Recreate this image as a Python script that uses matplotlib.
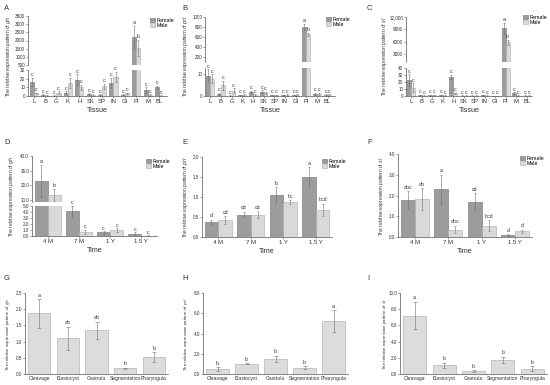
import numpy as np
import matplotlib.pyplot as plt
from matplotlib.patches import Patch

plt.rcParams['font.family'] = ['Liberation Sans', 'DejaVu Sans']
plt.rcParams['axes.linewidth'] = 0.5

FEM = '#9c9c9c'
FEM_EDGE = '#6e6e6e'
MALE = '#d9d9d9'
MALE_EDGE = '#ababab'
ERR = '#707070'
TXT = '#333333'

# ---- data ----
tissues = ['L', 'B', 'G', 'K', 'H', 'SK', 'SP', 'IN', 'GI', 'PI', 'M', 'BL']

gh_f = [16, 1, 0.5, 4, 19, 2, 1, 15, 1.5, 2200, 7, 10]
gh_m = [3, 0.5, 4, 15, 10, 1, 11, 22, 3, 1550, 1, 0.5]
gh_fe = [5, 0.8, 0.4, 1.5, 6, 1, 0.8, 6, 0.5, 700, 3, 2]
gh_me = [1, 0.4, 1.5, 6, 3, 0.8, 3, 6, 1, 500, 0.8, 0.4]
gh_fl = ['c'] * 9 + ['a', 'c', 'c']
gh_ml = ['c'] * 9 + ['b', 'c', 'c']

prl_f = [9.5, 1, 0.2, 0.3, 2, 2, 0.3, 0.3, 0.3, 800, 1, 0.5]
prl_m = [8, 5, 2.5, 0.5, 0.5, 1.5, 0.3, 0.5, 0.5, 660, 1, 0.5]
prl_fe = [3, 0.5, 0.2, 0.3, 0.5, 0.6, 0.2, 0.2, 0.2, 60, 0.4, 0.4]
prl_me = [2, 2, 1, 0.3, 0.3, 0.5, 0.2, 0.3, 0.3, 30, 0.4, 0.3]
prl_fl = ['c'] * 9 + ['a', 'c', 'c']
prl_ml = ['c'] * 9 + ['b', 'c', 'c']

sl_f = [23, 1, 1, 1, 27, 0.5, 0.5, 1, 0.3, 9200, 4, 0.5]
sl_m = [12, 0.5, 1, 0.5, 4, 0.5, 0.5, 0.5, 0.3, 5800, 0.5, 0.5]
sl_fe = [8, 0.5, 0.5, 0.5, 3, 0.3, 0.3, 0.5, 0.2, 1300, 1.5, 0.3]
sl_me = [6, 0.3, 1, 0.3, 1, 0.3, 0.3, 0.3, 0.2, 600, 0.3, 0.3]
sl_fl = ['c'] * 9 + ['a', 'c', 'c']
sl_ml = ['c'] * 9 + ['b', 'c', 'c']

times = ['4 M', '7 M', '1 Y', '1.5 Y']

d_f = [23, 4.1, 0.6, 0.4]
d_m = [13.5, 0.7, 0.95, 0.05]
d_fe = [11, 0.9, 0.2, 0.2]
d_me = [4, 0.3, 0.35, 0.05]
d_fl = ['a', 'c', 'c', 'c']
d_ml = ['b', 'c', 'c', 'c']

e_f = [0.37, 0.56, 1.04, 1.49]
e_m = [0.42, 0.56, 0.87, 0.68]
e_fe = [0.06, 0.07, 0.2, 0.25]
e_me = [0.1, 0.08, 0.05, 0.15]
e_fl = ['d', 'cd', 'b', 'a']
e_ml = ['cd', 'cd', 'bc', 'bcd']

f_f = [1.8, 2.3, 1.7, 0.08]
f_m = [1.82, 0.35, 0.55, 0.28]
f_fe = [0.4, 0.7, 0.4, 0.05]
f_me = [0.52, 0.18, 0.25, 0.08]
f_fl = ['abc', 'a', 'cd', 'd']
f_ml = ['ab', 'abc', 'bcd', 'd']

stages = ['Cleavage', 'Blastocyst', 'Gastrula', 'Segmentation', 'Pharyngula']

g_v = [1.87, 1.1, 1.35, 0.17, 0.52]
g_e = [0.44, 0.35, 0.27, 0.03, 0.15]
g_l = ['a', 'ab', 'ab', 'b', 'b']

h_v = [0.45, 1.0, 1.52, 0.6, 5.2]
h_e = [0.2, 0.05, 0.3, 0.15, 1.1]
h_l = ['b', 'b', 'b', 'b', 'a']

i_v = [7.2, 1.05, 0.35, 1.75, 0.65]
i_e = [1.7, 0.35, 0.1, 0.35, 0.3]
i_l = ['a', 'b', 'b', 'b', 'b']

fig = plt.figure(figsize=(5.5, 3.85), dpi=100)

TICK_FS = 3.3
LET_FS = 3.8


def box(l, t, r, b):
    return fig.add_axes([l / 550, 1 - b / 385, (r - l) / 550, (b - t) / 385])


def style(ax, bottom=True, top=True):
    ax.spines['right'].set_visible(False)
    ax.spines['top'].set_visible(top)
    ax.spines['bottom'].set_visible(bottom)
    for s in ax.spines.values():
        s.set_color('#555555')
    ax.tick_params(labelsize=TICK_FS, length=1.2, width=0.4, pad=0.8, colors='#555555',
                   labelcolor=TXT)


def draw_pair(axes, x, fv, mv, fe, me, w):
    for ax in axes:
        ax.bar(x - w / 2, fv, w, color=FEM, edgecolor=FEM_EDGE, linewidth=0.4,
               yerr=fe, error_kw=dict(ecolor=ERR, elinewidth=0.4, capsize=1, capthick=0.4))
        ax.bar(x + w / 2, mv, w, color=MALE, edgecolor=MALE_EDGE, linewidth=0.4,
               yerr=me, error_kw=dict(ecolor=ERR, elinewidth=0.4, capsize=1, capthick=0.4))


def letter(lo, hi, xx, top, lab, fs=LET_FS):
    ax = lo
    if hi is not None and top > lo.get_ylim()[1]:
        ax = hi
    off = (ax.get_ylim()[1] - ax.get_ylim()[0]) * 0.02
    ax.text(xx, top + off, lab, ha='center', va='bottom', fontsize=fs, color=TXT)


def legend(ax, fx, fy):
    h = [Patch(facecolor=FEM, edgecolor=FEM_EDGE, lw=0.4),
         Patch(facecolor=MALE, edgecolor=MALE_EDGE, lw=0.4)]
    ax.legend(h, ['Female', 'Male'], loc='upper left',
              bbox_to_anchor=(fx / 550, 1 - fy / 385), bbox_transform=fig.transFigure,
              fontsize=3.8, frameon=False, handlelength=1.1, handleheight=0.7,
              handletextpad=0.3, labelspacing=0.05, borderpad=0)


def broken(l, r, t_top, b_top, t_bot, b_bot, cats, fv, mv, fe, me, fl, ml,
           top_lim, top_ticks, bot_lim, bot_ticks, w, xr, fmt, xlabel):
    hi = box(l, t_top, r, b_top)
    lo = box(l, t_bot, r, b_bot)
    x = np.arange(len(cats))
    draw_pair([hi, lo], x, fv, mv, fe, me, w)
    hi.set_ylim(*top_lim)
    lo.set_ylim(*bot_lim)
    for ax in (hi, lo):
        ax.set_xlim(-0.5, len(cats) - 1 + xr)
    hi.set_yticks(top_ticks)
    hi.set_yticklabels([fmt(v) for v in top_ticks])
    lo.set_yticks(bot_ticks)
    lo.set_yticklabels([fmt(v) for v in bot_ticks])
    style(hi, bottom=False, top=False)
    style(lo, top=False)
    hi.set_xticks([])
    lo.set_xticks(x)
    lo.set_xticklabels(cats, fontsize=4.3)
    lo.set_xlabel(xlabel, fontsize=5.2, labelpad=2.5, color=TXT)
    for i in range(len(cats)):
        letter(lo, hi, x[i] - w / 2, fv[i] + fe[i], fl[i])
        letter(lo, hi, x[i] + w / 2, mv[i] + me[i], ml[i])
    return hi, lo


def single(l, t, r, b, cats, fv, mv, fe, me, fl, ml, lim, ticks, w, xr, fmt):
    ax = box(l, t, r, b)
    x = np.arange(len(cats))
    draw_pair([ax], x, fv, mv, fe, me, w)
    ax.set_ylim(*lim)
    ax.set_xlim(-0.5, len(cats) - 1 + xr)
    ax.set_yticks(ticks)
    ax.set_yticklabels([fmt(v) for v in ticks])
    style(ax, top=False)
    ax.set_xticks(x)
    ax.set_xticklabels(cats, fontsize=4.3)
    ax.set_xlabel('Time', fontsize=5.2, labelpad=2.5, color=TXT)
    for i in range(len(cats)):
        letter(ax, None, x[i] - w / 2, fv[i] + fe[i], fl[i])
        letter(ax, None, x[i] + w / 2, mv[i] + me[i], ml[i])
    return ax


def embryo(l, t, r, b, vals, errs, labs, lim, ticks):
    ax = box(l, t, r, b)
    x = np.arange(len(stages))
    ax.bar(x, vals, 0.78, color='#dcdcdc', edgecolor='#a8a8a8', linewidth=0.4,
           yerr=errs, error_kw=dict(ecolor=ERR, elinewidth=0.4, capsize=1.5, capthick=0.4))
    ax.set_ylim(*lim)
    ax.set_xlim(-0.5, len(stages) - 0.5)
    ax.set_yticks(ticks)
    ax.set_yticklabels(['%.1f' % v for v in ticks])
    style(ax, top=False)
    ax.set_xticks(x)
    ax.set_xticklabels(stages, fontsize=3.6)
    ax.tick_params(axis='x', length=0, pad=1.5)
    for i in range(len(stages)):
        letter(ax, None, x[i], vals[i] + errs[i], labs[i])
    return ax


def ylab(fx, fy, gene, fs=3.5):
    fig.text(fx / 550, 1 - fy / 385, 'The relative expression pattern of $\\it{' + gene + '}$',
             rotation=90, ha='center', va='center', fontsize=fs, color=TXT)


def panel(fx, fy, s):
    fig.text(fx / 550, 1 - fy / 385, s, ha='left', va='center', fontsize=5.5, color=TXT)


# ---- row 1: tissues ----
fi = lambda v: '%d' % v
hiA, loA = broken(28, 167, 16, 65, 70, 96, tissues, gh_f, gh_m, gh_fe, gh_me, gh_fl, gh_ml,
                  (500, 3500), range(500, 3501, 500), (0, 30), [0, 10, 20, 30],
                  0.36, 0.7, fi, 'Tissue')
legend(hiA, 147, 15)
hiB, loB = broken(205, 335, 17, 62, 68, 96, tissues, prl_f, prl_m, prl_fe, prl_me, prl_fl, prl_ml,
                  (100, 1000), [200, 400, 600, 800, 1000], (0, 13), [0, 10],
                  0.36, 0.7, fi, 'Tissue')
legend(hiB, 323, 14)
fc = lambda v: '{:,}'.format(v) if v >= 10000 else '%d' % v
hiC, loC = broken(406, 532, 17, 62, 68, 96, tissues, sl_f, sl_m, sl_fe, sl_me, sl_fl, sl_ml,
                  (1000, 12000), [3000, 6000, 9000, 12000], (0, 40), [0, 10, 20, 30, 40],
                  0.36, 0.5, fc, 'Tissue')
legend(hiC, 520, 12)

# ---- row 2: time ----
f1 = lambda v: '%.1f' % v
hiD, loD = broken(32, 157, 156, 202, 206, 236, times, d_f, d_m, d_fe, d_me, d_fl, d_ml,
                  (8.7, 40), [10, 20, 30, 40], (0, 5), [0, 1, 2, 3, 4, 5],
                  0.42, 0.5, f1, 'Time')
legend(hiD, 143, 156)
axE = single(202, 157, 332, 237, times, e_f, e_m, e_fe, e_me, e_fl, e_ml,
             (0, 2.0), [0, 0.5, 1.0, 1.5, 2.0], 0.42, 0.5, f1)
legend(axE, 319, 156)
axF = single(398, 154, 532, 237, times, f_f, f_m, f_fe, f_me, f_fl, f_ml,
             (0, 4.0), [0, 1.0, 2.0, 3.0, 4.0], 0.42, 0.5, f1)
legend(axF, 517, 153)

# ---- row 3: embryo stages ----
embryo(25, 293, 168, 374, g_v, g_e, g_l, (0, 2.5), [0, 0.5, 1.0, 1.5, 2.0, 2.5])
embryo(203, 293, 348, 374, h_v, h_e, h_l, (0, 8), [0, 2, 4, 6, 8])
embryo(400, 293, 547, 374, i_v, i_e, i_l, (0, 10), [0, 2, 4, 6, 8, 10])

ylab(9, 56, 'gh')
ylab(185, 56, 'prl')
ylab(384, 56, 'sl')
ylab(12, 196, 'gh')
ylab(185, 197, 'prl')
ylab(382, 196, 'sl')
ylab(8, 334, 'gh', 3.2)
ylab(186, 334, 'prl', 3.2)
ylab(385, 334, 'sl', 3.2)

for fx, fy, s in [(4, 8, 'A'), (182, 8, 'B'), (367, 8, 'C'),
                  (4, 143, 'D'), (182, 143, 'E'), (367, 143, 'F'),
                  (4, 278, 'G'), (182, 278, 'H'), (367, 278, 'I')]:
    panel(fx, fy, s)

fig.savefig('out.png', dpi=100, facecolor='white')
